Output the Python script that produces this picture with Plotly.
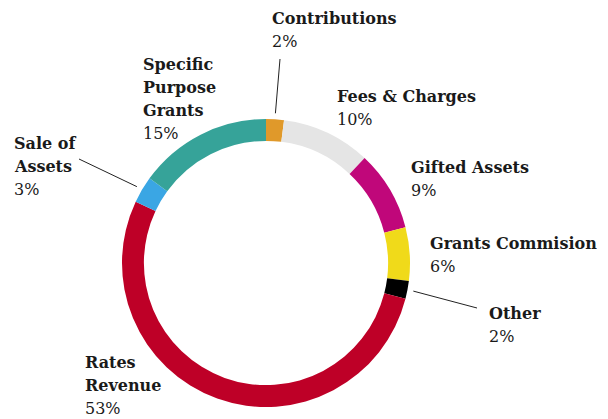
import math
import plotly.graph_objects as go

# ---- data ----
labels = ["Contributions", "Fees & Charges", "Gifted Assets", "Grants Commision",
          "Other", "Rates Revenue", "Sale of Assets", "Specific Purpose Grants"]
label_lines = [["Contributions"], ["Fees & Charges"], ["Gifted Assets"], ["Grants Commision"],
               ["Other"], ["Rates", "Revenue"], ["Sale of", "Assets"],
               ["Specific", "Purpose", "Grants"]]
values = [2, 10, 9, 6, 2, 53, 3, 15]
colors = ["#E0992A", "#E5E5E5", "#C0077A", "#F0DA1A",
          "#000000", "#BE0027", "#3AA6E4", "#36A399"]

# ---- layout (pixels, page coordinates; page body has an 8px margin) ----
W, H = 608, 419
OFF = 8
CX, CY, R = 266, 263, 144
FONT = "DejaVu Serif"
FS = 16
LINE = 23
TXT = "#1a1a1a"

# cap-top / left of first line of each label (pixels)
label_pos = {
    "Contributions": (272, 13),
    "Fees & Charges": (337, 91),
    "Gifted Assets": (411, 162),
    "Grants Commision": (430, 238),
    "Other": (489, 308),
    "Rates Revenue": (85, 357),
    "Sale of Assets": (14, 138),
    "Specific Purpose Grants": (143, 59),
}
# leader line end points (pixels)
leader_end = {
    "Contributions": (280, 59),
    "Other": (477, 308),
    "Sale of Assets": (79, 159),
}


def px(x):
    return (x - OFF) / W


def py(y):
    return 1 - (y - OFF) / H


fig = go.Figure(go.Pie(
    labels=labels, values=values, sort=False, direction="clockwise", rotation=0,
    hole=0.848, marker=dict(colors=colors, line=dict(width=0)),
    textinfo="none", showlegend=False, hoverinfo="label+percent",
    domain=dict(x=[px(CX - R), px(CX + R)], y=[py(CY + R), py(CY - R)]),
))

total = sum(values)
annotations = []
shapes = []
cum = 0
for lab, lines, v in zip(labels, label_lines, values):
    pct = round(100 * v / total)
    x0, y0 = label_pos[lab]
    rows = [(f"<b>{t}</b>", True) for t in lines] + [(f"{pct}%", False)]
    for i, (t, bold) in enumerate(rows):
        annotations.append(dict(
            x=px(x0 - 2), y=py(y0 - 6 + i * LINE), xref="paper", yref="paper",
            xanchor="left", yanchor="top", align="left", showarrow=False,
            text=t, font=dict(family=FONT, size=FS, color=TXT),
        ))
    mid = (cum + v / 2) / total * 2 * math.pi
    if lab in leader_end:
        rr = R + 6
        sx = CX + rr * math.sin(mid)
        sy = CY - rr * math.cos(mid)
        ex, ey = leader_end[lab]
        shapes.append(dict(type="line", xref="paper", yref="paper",
                           x0=px(sx), y0=py(sy), x1=px(ex), y1=py(ey),
                           line=dict(color="#222222", width=1)))
    cum += v

fig.update_layout(
    width=W, height=H, margin=dict(l=0, r=0, t=0, b=0),
    paper_bgcolor="white", plot_bgcolor="white",
    annotations=annotations, shapes=shapes,
)
fig.write_html("out.html")
